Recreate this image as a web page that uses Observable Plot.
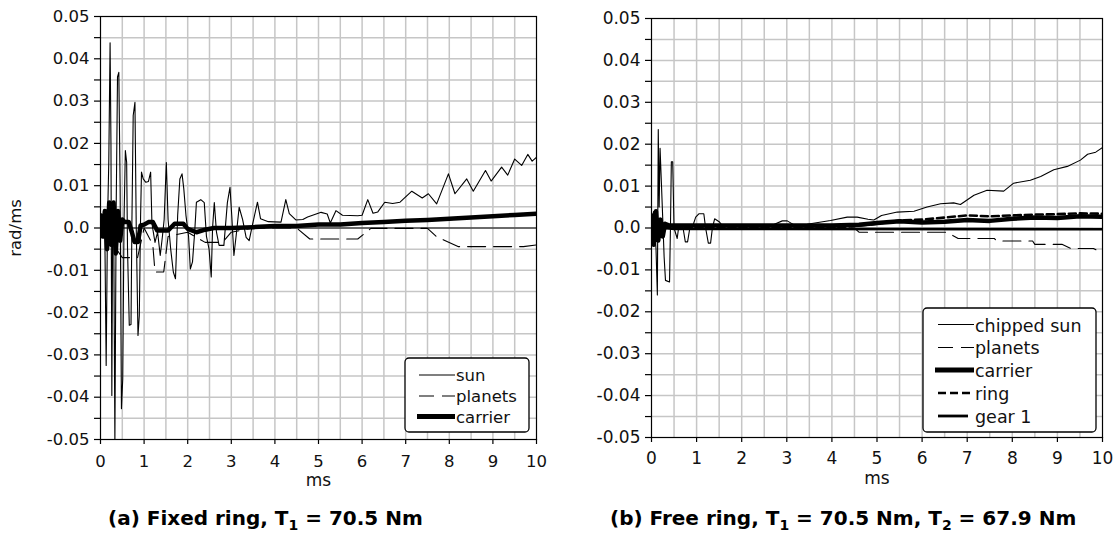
<!DOCTYPE html>
<html><head><meta charset="utf-8">
<script src="https://cdn.jsdelivr.net/npm/d3@7"></script>
<script src="https://cdn.jsdelivr.net/npm/@observablehq/plot@0.6"></script>
<style>
body{margin:0;background:#fff;}
#wrap{position:relative;width:1115px;height:538px;overflow:hidden;background:#fff;}
#wrap > div, #wrap > svg{position:absolute;top:0;}
</style></head><body><div id="wrap"></div>
<script>
// ---------- data (ms, rad/ms) ----------
const xTicks = [0,1,2,3,4,5,6,7,8,9,10];
const xGrid = [0.5,1,1.5,2,2.5,3,3.5,4,4.5,5,5.5,6,6.5,7,7.5,8,8.5,9,9.5];
const yTicks = [-0.05,-0.045,-0.04,-0.035,-0.03,-0.025,-0.02,-0.015,-0.01,-0.005,0,0.005,0.01,0.015,0.02,0.025,0.03,0.035,0.04,0.045,0.05];
const yGrid = [-0.045,-0.04,-0.035,-0.03,-0.025,-0.02,-0.015,-0.01,-0.005,0,0.005,0.01,0.015,0.02,0.025,0.03,0.035,0.04,0.045];

// (a) fixed ring
const sunA = [[0,0.002],[0.05,0.003],[0.1,-0.002],[0.13,-0.0325],[0.16,0.001],[0.19,0.0156],[0.22,0.0438],[0.24,0.02],[0.26,-0.0396],[0.28,0.005],[0.3,0.006],[0.33,-0.0505],[0.36,0.005],[0.39,0.0357],[0.42,0.0368],[0.45,0.01],[0.48,-0.0427],[0.51,-0.0357],[0.54,0.002],[0.57,0.0183],[0.6,0.0155],[0.62,-0.005],[0.66,-0.023],[0.7,-0.0228],[0.72,0.001],[0.75,0.0266],[0.79,0.0297],[0.82,0],[0.86,-0.0254],[0.89,-0.0207],[0.92,0.003],[0.94,0.0132],[0.98,0.0116],[1.04,0.0108],[1.1,0.011],[1.15,0.0132],[1.18,0.001],[1.25,-0.0034],[1.31,-0.001],[1.37,-0.0065],[1.42,-0.002],[1.46,0.002],[1.51,0.0155],[1.55,0.002],[1.61,-0.005],[1.67,-0.0104],[1.72,-0.012],[1.77,0.003],[1.82,0.0116],[1.87,0.0128],[1.91,0.0093],[1.96,0.003],[2.02,-0.002],[2.06,-0.0097],[2.11,-0.008],[2.16,-0.001],[2.2,0.0061],[2.3,0.0067],[2.38,0.006],[2.43,-0.002],[2.49,-0.005],[2.54,-0.0116],[2.57,0],[2.61,0.006],[2.66,-0.001],[2.72,-0.0041],[2.83,-0.0041],[2.91,0.006],[2.97,0.0096],[3.01,0.003],[3.06,-0.0065],[3.12,-0.001],[3.18,0.0049],[3.26,0.002],[3.34,-0.0022],[3.41,-0.003],[3.49,0.001],[3.6,0.0061],[3.67,0.0022],[3.85,0.0015],[4.14,0.0014],[4.25,0.0067],[4.33,0.0034],[4.48,0.0019],[4.64,0.002],[4.75,0.0026],[5.06,0.0037],[5.2,0.0033],[5.27,0.0012],[5.4,0.0041],[5.55,0.003],[5.9,0.0029],[6.0,0.003],[6.13,0.0067],[6.25,0.0035],[6.36,0.0038],[6.52,0.0061],[6.7,0.0058],[6.87,0.0061],[7.14,0.0087],[7.38,0.0071],[7.52,0.0081],[7.71,0.0057],[7.98,0.0128],[8.13,0.0081],[8.4,0.0116],[8.55,0.0087],[8.83,0.0136],[8.96,0.0111],[9.2,0.0144],[9.34,0.0125],[9.5,0.0163],[9.66,0.0148],[9.8,0.0174],[9.9,0.0158],[10,0.0167]];
const planetsA = [[0,0],[0.3,-0.004],[0.5,-0.007],[0.85,-0.007],[1.0,0],[1.2,-0.004],[1.25,-0.0104],[1.45,-0.0104],[1.55,-0.002],[2.0,-0.001],[2.4,-0.0034],[2.8,-0.0034],[3.0,-0.001],[3.5,0],[4.5,0],[4.8,-0.0026],[5.9,-0.0026],[6.2,-0.0001],[7.5,-0.0001],[7.7,-0.002],[8.2,-0.0044],[9.7,-0.0044],[10,-0.004]];
const carrierA = [[0,0.003],[0.05,-0.002],[0.1,0.004],[0.15,-0.005],[0.2,0.006],[0.25,-0.004],[0.3,0.006],[0.35,-0.006],[0.4,0.004],[0.45,-0.003],[0.5,0.002],[0.55,0.0014],[0.65,0.0014],[0.72,-0.001],[0.78,-0.0033],[0.86,-0.0033],[0.92,0.0006],[1.0,0.0008],[1.1,0.0014],[1.2,0.0014],[1.3,-0.0006],[1.55,-0.0006],[1.7,0.001],[1.9,0.001],[2.0,-0.0002],[2.2,-0.001],[2.4,-0.0004],[2.6,0],[3.0,0],[3.5,0.0002],[4.0,0.0005],[4.5,0.0005],[5.0,0.0008],[5.5,0.0008],[6.0,0.0012],[6.5,0.0014],[7.0,0.0017],[7.5,0.0019],[8.0,0.0022],[8.5,0.0025],[9.0,0.0028],[9.5,0.0031],[10,0.0034]];

// (b) free ring
const sunB = [[0,0.002],[0.05,0.004],[0.1,-0.005],[0.13,-0.016],[0.15,0.0235],[0.17,0.005],[0.19,0.019],[0.22,0.0106],[0.25,0.002],[0.28,-0.0069],[0.31,-0.0125],[0.4,-0.0129],[0.42,0],[0.44,0.0158],[0.47,0.0158],[0.5,0],[0.57,-0.0025],[0.6,0],[0.66,0.0003],[0.7,0],[0.75,-0.0033],[0.8,-0.0033],[0.85,0],[0.9,0],[0.98,0.0026],[1.05,0.0034],[1.16,0.0034],[1.2,0],[1.26,-0.0036],[1.31,-0.0036],[1.35,0],[1.4,0.0022],[1.5,0.0015],[1.57,0.0006],[2.0,0.0007],[2.7,0.0008],[2.9,0.0017],[3.01,0.0017],[3.15,0.0008],[3.45,0.0009],[3.97,0.0018],[4.34,0.0026],[4.56,0.0026],[4.8,0.0021],[4.93,0.0019],[5.1,0.003],[5.45,0.0038],[5.82,0.004],[6.11,0.005],[6.41,0.0058],[6.7,0.006],[6.85,0.0056],[7.15,0.0078],[7.44,0.009],[7.81,0.0088],[8.03,0.0107],[8.4,0.0114],[8.63,0.0123],[8.92,0.0139],[9.22,0.0147],[9.51,0.0162],[9.67,0.0176],[9.85,0.0181],[10,0.0192]];
const planetsB = [[0,0],[0.2,-0.002],[0.3,0],[4.5,0],[4.6,-0.001],[6.55,-0.001],[6.8,-0.0025],[7.6,-0.0025],[7.66,-0.0031],[8.45,-0.0031],[8.5,-0.0039],[9.1,-0.0039],[9.3,-0.0049],[9.8,-0.0049],[10,-0.006]];
const carrierB = [[0,0.003],[0.05,-0.004],[0.1,0.004],[0.15,-0.003],[0.2,0.002],[0.25,-0.002],[0.3,0.001],[0.4,0.0006],[1,0.0006],[2,0.0006],[3,0.0006],[4,0.0006],[4.6,0.0008],[5.0,0.0012],[5.5,0.0016],[6.0,0.0013],[6.5,0.0015],[7.0,0.0019],[7.5,0.0017],[8.0,0.0022],[8.5,0.0025],[9.0,0.0024],[9.5,0.0028],[10,0.0027]];
const ringB = [[0,0],[4,0],[4.5,0.0005],[5,0.001],[5.5,0.0018],[6,0.002],[6.5,0.0025],[7,0.003],[7.5,0.0028],[8,0.003],[8.5,0.0032],[9,0.0033],[9.5,0.0035],[10,0.0034]];
const gear1B = [[0,0.002],[0.05,-0.003],[0.1,0.002],[0.2,-0.001],[0.3,0],[0.5,-0.0002],[10,-0.0003]];

const legendA = ["sun","planets","carrier"];
const legendB = ["chipped sun","planets","carrier","ring","gear 1"];

// ---------- drawing ----------
const FONT = "DejaVu Sans";
const yFmt = d => (Math.round(d*200) % 2 !== 0) ? "" : (Math.abs(d) < 1e-9 ? "0.0" : d.toFixed(2));
const L = (data, o) => Plot.line(data, {x: d => d[0], y: d => d[1], stroke: "black", clip: true, ...o});

function panel({left, width, mL, mR, mT, mB, fs, xPad, lines, zeroRule}) {
  const svg = Plot.plot({
    width, height: 538, marginLeft: mL, marginRight: mR, marginTop: mT, marginBottom: mB,
    x: {domain: [0, 10]},
    y: {domain: [-0.05, 0.05]},
    style: {fontFamily: FONT, fontSize: fs + "px", color: "#000", background: "transparent", overflow: "visible"},
    marks: [
      Plot.gridX(xGrid, {stroke: "#c6c6c6", strokeOpacity: 1, strokeWidth: 1.5}),
      Plot.gridY(yGrid, {stroke: "#c6c6c6", strokeOpacity: 1, strokeWidth: 1.5}),
      zeroRule ? Plot.ruleY([0], {stroke: "black", strokeWidth: 1}) : null,
      ...lines,
      Plot.frame({stroke: "black", strokeWidth: 1.2}),
      Plot.axisX(xTicks, {tickSize: 5, tickPadding: xPad, label: null, tickFormat: d => String(d), stroke: "black", strokeWidth: 1.2, fill: "#111"}),
      Plot.axisY(yTicks, {tickSize: 6, tickPadding: 5, label: null, tickFormat: yFmt, stroke: "black", strokeWidth: 1.2, fill: "#111"}),
      Plot.text(["ms"], {x: [5], text: d => d, frameAnchor: "bottom", dy: 46, fontSize: 17, fill: "#111"})
    ]
  });
  svg.style.left = left + "px";
  return svg;
}

const wrap = document.getElementById("wrap");

const pa = panel({left: 0, width: 560, mL: 100, mR: 24, mT: 16, mB: 99, fs: 16.5, xPad: 10.5, zeroRule: true,
  lines: [
    L(planetsA, {strokeWidth: 1.1, strokeDasharray: "18,8"}),
    L(sunA, {strokeWidth: 1.1}),
    L(carrierA, {strokeWidth: 4.5})
  ]});
wrap.appendChild(pa);

const pb = panel({left: 560, width: 555, mL: 91, mR: 13, mT: 18, mB: 101, fs: 17, xPad: 9, zeroRule: false,
  lines: [
    L(planetsB, {strokeWidth: 1.1, strokeDasharray: "18,8"}),
    L(gear1B, {strokeWidth: 2.6}),
    L(ringB, {strokeWidth: 2.6, strokeDasharray: "7,4"}),
    L(sunB, {strokeWidth: 1.1}),
    L(carrierB, {strokeWidth: 4.5})
  ]});
wrap.appendChild(pb);

// overlay: y label, legends, captions
const ov = d3.select(wrap).append("svg").attr("width", 1115).attr("height", 538)
  .style("left", "0px").style("font-family", FONT).style("pointer-events", "none");

ov.append("text").attr("transform", "translate(21,228) rotate(-90)")
  .attr("text-anchor", "middle").attr("font-size", 16.5).attr("fill", "#111").text("rad/ms");

function legend(g, box, items, styles, x1, x2s, tx, rowsY, baseY, fs) {
  g.append("rect").attr("x", box[0]).attr("y", box[1]).attr("width", box[2]).attr("height", box[3])
    .attr("rx", 4).attr("fill", "white").attr("stroke", "black").attr("stroke-width", 1.3);
  items.forEach((name, i) => {
    const s = styles[i];
    g.append("line").attr("x1", s.x1 ?? x1).attr("x2", s.x2 ?? x2s).attr("y1", rowsY[i]).attr("y2", rowsY[i])
      .attr("stroke", "black").attr("stroke-width", s.w).attr("stroke-dasharray", s.dash || null);
    g.append("text").attr("x", tx).attr("y", baseY[i]).attr("font-size", fs).attr("fill", "#111").text(name);
  });
}
legend(ov, [405, 358, 124, 74], legendA,
  [{w: 1.1}, {w: 1.1, dash: "15,8"}, {w: 5, x1: 417}],
  419, 455, 456, [375, 396, 416.5], [381, 401.5, 422.5], 16.5);
legend(ov, [923, 308, 173, 124], legendB,
  [{w: 1.1}, {w: 1.1, dash: "15,8"}, {w: 5, x1: 935}, {w: 2.6, dash: "8,4"}, {w: 2.8, x2: 968}],
  938, 974, 975, [324.5, 347.5, 370, 393, 416], [331.5, 354, 376.5, 400, 422.5], 17.5);

function caption(x, parts) {
  const t = ov.append("text").attr("x", x).attr("y", 525).attr("font-size", 20).attr("font-weight", "bold").attr("fill", "#000");
  parts.forEach(p => {
    if (p.sub) t.append("tspan").attr("dy", 5).attr("font-size", 14).text(p.sub);
    else t.append("tspan").attr("dy", p.after ? -5 : 0).text(p.t);
  });
}
caption(108, [{t: "(a) Fixed ring, T"}, {sub: "1"}, {t: " = 70.5 Nm", after: true}]);
caption(610, [{t: "(b) Free ring, T"}, {sub: "1"}, {t: " = 70.5 Nm, T", after: true}, {sub: "2"}, {t: " = 67.9 Nm", after: true}]);
</script></body></html>
